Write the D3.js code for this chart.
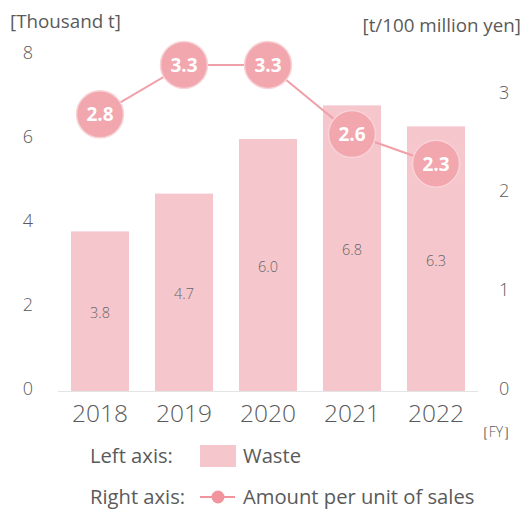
<!DOCTYPE html>
<html>
<head>
<meta charset="utf-8">
<script src="https://cdn.jsdelivr.net/npm/d3@7"></script>
<style>
  html, body { margin: 0; padding: 0; background: #fff; }
  svg { display: block; font-family: "Open Sans", "Noto Sans", sans-serif; }
</style>
</head>
<body>
<svg id="chart" width="525" height="510"></svg>
<script>
// Fiscal years and series
const years = ["2018", "2019", "2020", "2021", "2022"];
const waste = [3.8, 4.7, 6.0, 6.8, 6.3];          // thousand t (left axis)
const perSales = [2.8, 3.3, 3.3, 2.6, 2.3];       // t / 100 million yen (right axis)
const leftTicks = [0, 2, 4, 6, 8];
const rightTicks = [0, 1, 2, 3];

const barColor = "#f6c6cd";
const lineColor = "#f0a0a8";
const dotColor = "#f2a6ad";
const textColor = "#5a5a5a";
const font = "'Open Sans', 'Noto Sans', sans-serif";
const w = 400;

const svg = d3.select("#chart");

const plot = { left: 58, right: 478, top: 55, bottom: 391 };

const x = d3.scaleBand().domain(years).range([plot.left, plot.right]).paddingInner(0.31).paddingOuter(0.155);
const yL = d3.scaleLinear().domain([0, 8]).range([plot.bottom, plot.top]);
const yR = d3.scaleLinear().domain([0, 3.4]).range([plot.bottom, plot.top]);

// Unit labels
svg.append("text").attr("x", 10).attr("y", 28).attr("font-size", 18.8).attr("fill", textColor)
  .attr("font-weight", w).text("[Thousand t]");
svg.append("text").attr("x", 521).attr("y", 32).attr("text-anchor", "end").attr("font-size", 18.8)
  .attr("fill", textColor).attr("font-weight", w).text("[t/100 million yen]");

// Left axis ticks
const axL = d3.axisLeft(yL).tickValues(leftTicks).tickFormat(d3.format("d")).tickSize(0).tickPadding(0);
svg.append("g").attr("transform", "translate(33,0)").call(axL)
  .call(g => g.select(".domain").remove())
  .call(g => g.selectAll("text").attr("font-size", 18).attr("fill", textColor)
    .attr("font-weight", 300).attr("font-family", font).attr("dy", "0.2em"));

// Right axis ticks
const axR = d3.axisRight(yR).tickValues(rightTicks).tickFormat(d3.format("d")).tickSize(0).tickPadding(0);
svg.append("g").attr("transform", "translate(499,0)").call(axR)
  .call(g => g.select(".domain").remove())
  .call(g => g.selectAll("text").attr("font-size", 18).attr("fill", textColor)
    .attr("font-weight", 300).attr("font-family", font).attr("dy", "0.2em"));

// Bars
svg.append("g").selectAll("rect").data(years).join("rect")
  .attr("x", d => x(d))
  .attr("width", x.bandwidth())
  .attr("y", (d, i) => yL(waste[i]))
  .attr("height", (d, i) => yL(0) - yL(waste[i]))
  .attr("fill", barColor);

// Bar value labels
svg.append("g").selectAll("text").data(years).join("text")
  .attr("x", d => x(d) + x.bandwidth() / 2)
  .attr("y", (d, i) => (yL(waste[i]) + yL(0)) / 2 + 7)
  .attr("text-anchor", "middle").attr("font-size", 14.5).attr("font-weight", 300)
  .attr("fill", "#666").text((d, i) => d3.format(".1f")(waste[i]));

// Baseline
svg.append("line").attr("x1", plot.left).attr("x2", plot.right)
  .attr("y1", plot.bottom + 0.5).attr("y2", plot.bottom + 0.5)
  .attr("stroke", "#e4e4e4").attr("stroke-width", 1);

// Year labels
const axX = d3.axisBottom(x).tickSize(0).tickPadding(0);
svg.append("g").attr("transform", `translate(0,${plot.bottom})`).call(axX)
  .call(g => g.select(".domain").remove())
  .call(g => g.selectAll("text").attr("font-size", 24.5).attr("fill", textColor)
    .attr("font-weight", 300).attr("font-family", font).attr("dy", "1.27em"));

svg.append("text").attr("x", 496).attr("y", 437).attr("text-anchor", "middle")
  .attr("font-size", 14).attr("fill", textColor).attr("font-weight", 300).text("［FY］");

// Line series
const cx = d => x(d) + x.bandwidth() / 2;
const line = d3.line().x((d, i) => cx(years[i])).y(d => yR(d));
svg.append("path").datum(perSales).attr("d", line)
  .attr("fill", "none").attr("stroke", lineColor).attr("stroke-width", 2);

const dots = svg.append("g").selectAll("g").data(perSales).join("g")
  .attr("transform", (d, i) => `translate(${cx(years[i])},${yR(d)})`);
dots.append("circle").attr("r", 23.5).attr("fill", dotColor)
  .attr("stroke", "#f8d3d7").attr("stroke-width", 1.5);
dots.append("text").attr("text-anchor", "middle").attr("dy", "0.36em")
  .attr("font-size", 19).attr("font-weight", 700).attr("fill", "#fff")
  .text(d => d3.format(".1f")(d));

// Legend
const lg = svg.append("g").attr("font-size", 20.2).attr("fill", textColor).attr("font-weight", w);
lg.append("text").attr("x", 90).attr("y", 463).text("Left axis:");
lg.append("rect").attr("x", 200).attr("y", 445).attr("width", 36).attr("height", 22).attr("fill", barColor);
lg.append("text").attr("x", 243).attr("y", 463).text("Waste");

lg.append("text").attr("x", 90).attr("y", 504).text("Right axis:");
lg.append("line").attr("x1", 200).attr("x2", 235).attr("y1", 497).attr("y2", 497)
  .attr("stroke", "#f0959d").attr("stroke-width", 2);
lg.append("circle").attr("cx", 218).attr("cy", 497).attr("r", 6.5).attr("fill", "#f0959d");
lg.append("text").attr("x", 243).attr("y", 504).text("Amount per unit of sales");
</script>
</body>
</html>
